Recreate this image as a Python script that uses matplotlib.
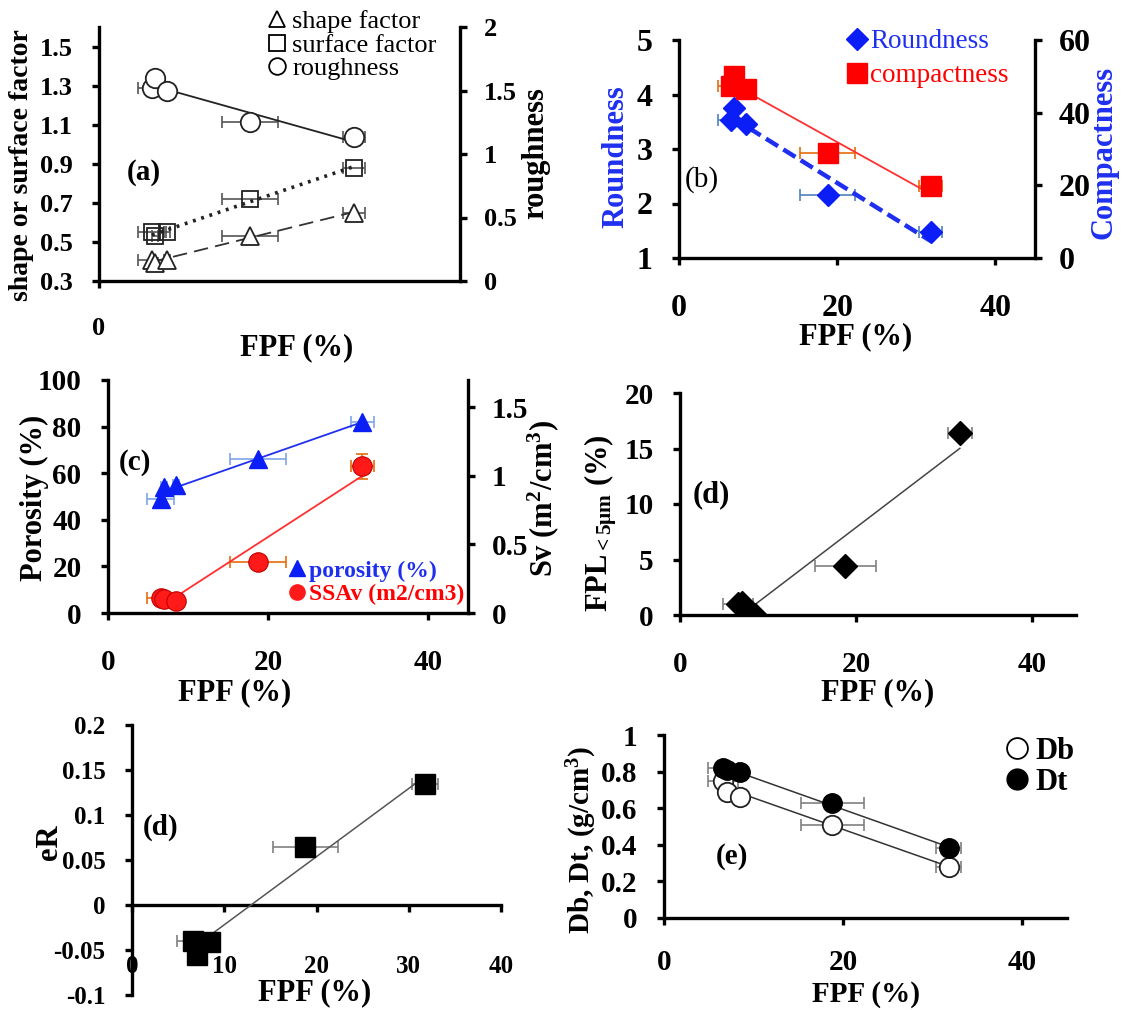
import numpy as np
import matplotlib
matplotlib.use('Agg')
import matplotlib.pyplot as plt
from matplotlib.lines import Line2D

plt.rcParams['font.family'] = ['Liberation Serif', 'DejaVu Serif']
plt.rcParams['font.weight'] = 'bold'
plt.rcParams['mathtext.fontset'] = 'custom'
plt.rcParams['mathtext.rm'] = 'Liberation Serif:bold'
plt.rcParams['mathtext.bf'] = 'Liberation Serif:bold'
plt.rcParams['mathtext.it'] = 'Liberation Serif:bold'
plt.rcParams['mathtext.default'] = 'bf'

# ---------------- data ----------------
fpf = [6.6, 7.0, 8.5, 18.8, 31.8]
fpf_err = [1.7, 0.4, 0.4, 3.5, 1.4]

shape_factor = [0.41, 0.39, 0.41, 0.53, 0.65]
surface_factor = [0.55, 0.53, 0.55, 0.72, 0.88]
roughness = [1.52, 1.60, 1.50, 1.25, 1.13]

roundness = [3.53, 3.75, 3.45, 2.15, 1.47]
compactness = [47.4, 50.1, 46.4, 28.9, 19.7]

porosity = [49, 54, 55, 66, 82]
ssav = [0.11, 0.10, 0.09, 0.37, 1.07]
ssav_err = [0.0, 0.0, 0.0, 0.0, 0.09]

fpl5 = [1.0, 1.1, 0.0, 4.4, 16.4]

eR = [-0.040, -0.056, -0.041, 0.065, 0.134]

Db = [0.75, 0.69, 0.66, 0.51, 0.28]
Dt = [0.82, 0.81, 0.80, 0.63, 0.38]

# ---------------- layout helpers ----------------
W, H = 1122, 1010
fig = plt.figure(figsize=(W / 100, H / 100), dpi=100)


def add_ax(l, t, r, b):
    return fig.add_axes([l / W, 1 - b / H, (r - l) / W, (b - t) / H])


def ftext(x, y, s, **kw):
    kw.setdefault('ha', 'center')
    kw.setdefault('va', 'center')
    fig.text(x / W, 1 - y / H, s, **kw)


def fpos(x, y):
    return (x / W, 1 - y / H)


SPW = 2.4


def style(ax, fs, right_ax=None, xpad=21, ypad=14):
    for s in ['top', 'right']:
        ax.spines[s].set_visible(False)
    for s in ['left', 'bottom']:
        ax.spines[s].set_linewidth(SPW)
    ax.tick_params(axis='both', direction='out', width=SPW, length=5,
                   labelsize=fs, colors='black')
    ax.tick_params(axis='x', pad=xpad)
    ax.tick_params(axis='y', pad=ypad)
    if right_ax is not None:
        for s in ['top', 'left', 'bottom']:
            right_ax.spines[s].set_visible(False)
        right_ax.spines['right'].set_linewidth(SPW)
        right_ax.tick_params(axis='y', direction='out', width=SPW, length=5,
                             labelsize=fs, pad=ypad - 2)


def trend(ax, x, y, **kw):
    x = np.asarray(x, float)
    y = np.asarray(y, float)
    k, b0 = np.polyfit(x, y, 1)
    xs = np.array([x.min(), x.max()])
    ax.plot(xs, k * xs + b0, **kw)


def errx(ax, y, color, yerr=None):
    ax.errorbar(fpf, y, xerr=fpf_err, yerr=yerr, fmt='none', ecolor=color,
                elinewidth=1.2, capsize=4, capthick=1.2, zorder=2)


LBL = 22

# ================= panel (a) =================
axa = add_ax(99, 27, 460, 281)
axa2 = axa.twinx()
style(axa, 19, axa2)
axa.set_xlim(0, 45)
axa.set_ylim(0.3, 1.6)
axa2.set_ylim(0, 2)
axa.set_xticks([0])
axa.set_yticks([0.3, 0.5, 0.7, 0.9, 1.1, 1.3, 1.5])
axa.set_yticklabels(['0.3', '0.5', '0.7', '0.9', '1.1', '1.3', '1.5'])
axa2.set_yticks([0, 0.5, 1, 1.5, 2])
axa2.set_yticklabels(['0', '0.5', '1', '1.5', '2'])

errx(axa, shape_factor, '#555555')
errx(axa, surface_factor, '#555555')
errx(axa2, roughness, '#555555')
trend(axa, fpf, shape_factor, color='#333333', lw=1.3, ls=(0, (8, 4)), zorder=3)
trend(axa, fpf, surface_factor, color='#222222', lw=2.6, ls=(0, (0.8, 1.6)), zorder=3)
trend(axa2, fpf, roughness, color='#222222', lw=1.3, zorder=3)
axa.plot(fpf, shape_factor, ls='none', marker='^', ms=13, mfc='white',
         mec='#222222', mew=1.3, zorder=4)
axa.plot(fpf, surface_factor, ls='none', marker='s', ms=12, mfc='none',
         mec='#222222', mew=1.3, zorder=4)
axa2.plot(fpf, roughness, ls='none', marker='o', ms=14, mfc='white',
          mec='#222222', mew=1.3, zorder=4)

ha = [Line2D([], [], ls='none', marker='^', ms=12, mfc='white', mec='black', mew=1.3),
      Line2D([], [], ls='none', marker='s', ms=12, mfc='white', mec='black', mew=1.3),
      Line2D([], [], ls='none', marker='o', ms=12, mfc='white', mec='black', mew=1.3)]
lga = axa2.legend(ha, ['shape factor', 'surface factor', 'roughness'],
                  loc='upper left', bbox_to_anchor=fpos(266, 10),
                  bbox_transform=fig.transFigure, frameon=False,
                  prop={'size': 19, 'weight': 'normal'}, labelspacing=0.0,
                  handlelength=0.8, handletextpad=0.2, borderpad=0,
                  borderaxespad=0)

ftext(22, 165, 'shape or surface factor', rotation=90, fontsize=20)
ftext(536, 153, 'roughness', rotation=90, fontsize=LBL)
ftext(297, 348, 'FPF (%)', fontsize=LBL)
ftext(144, 173, '(a)', fontsize=21)

# ================= panel (b) =================
axb = add_ax(679, 40, 1035, 258)
axb2 = axb.twinx()
style(axb, 23, axb2)
axb.set_xlim(0, 45)
axb.set_ylim(1, 5)
axb2.set_ylim(0, 60)
axb.set_xticks([0, 20, 40])
axb.set_yticks([1, 2, 3, 4, 5])
axb2.set_yticks([0, 20, 40, 60])

errx(axb, roundness, '#4F81BD')
errx(axb2, compactness, '#E46C0A')
trend(axb, fpf, roundness, color='#1F2FF0', lw=3.2, ls=(0, (3.2, 1.4)), zorder=3)
trend(axb2, fpf, compactness, color='#FF3030', lw=1.3, zorder=3)
axb.plot(fpf, roundness, ls='none', marker='D', ms=11, mfc='#0A1EF5',
         mec='#0A1EF5', zorder=4)
axb2.plot(fpf, compactness, ls='none', marker='s', ms=14, mfc='#FF0000',
          mec='#FF0000', zorder=4)

hb = [Line2D([], [], ls='none', marker='D', ms=11, mfc='#0A1EF5', mec='#0A1EF5'),
      Line2D([], [], ls='none', marker='s', ms=15, mfc='#FF0000', mec='#FF0000')]
lgb = axb2.legend(hb, ['Roundness', 'compactness'], loc='upper left',
                  bbox_to_anchor=fpos(846, 29), bbox_transform=fig.transFigure,
                  frameon=False, prop={'size': 19.5, 'weight': 'normal'},
                  labelspacing=0.35, handlelength=0.8, handletextpad=0.1,
                  borderpad=0, borderaxespad=0)
lgb.get_texts()[0].set_color('#1F2FF0')
lgb.get_texts()[1].set_color('#FF0000')

ftext(616, 157, 'Roundness', rotation=90, fontsize=LBL, color='#1F2FF0')
ftext(1104, 152, 'Compactness', rotation=90, fontsize=LBL, color='#1F2FF0')
ftext(856, 337, 'FPF (%)', fontsize=LBL)
ftext(702, 180, '(b)', fontsize=21, fontweight='normal')

# ================= panel (c) =================
axc = add_ax(108, 380, 468, 613)
axc2 = axc.twinx()
style(axc, 21, axc2)
axc.set_xlim(0, 45)
axc.set_ylim(0, 100)
axc2.set_ylim(0, 1.7)
axc.set_xticks([0, 20, 40])
axc.set_yticks([0, 20, 40, 60, 80, 100])
axc2.set_yticks([0, 0.5, 1, 1.5])
axc2.set_yticklabels(['0', '0.5', '1', '1.5'])

errx(axc, porosity, '#7EA6E6')
errx(axc2, ssav, '#E46C0A', yerr=ssav_err)
trend(axc, fpf, porosity, color='#2030F0', lw=1.3, zorder=3)
trend(axc2, fpf, ssav, color='#FF3030', lw=1.3, zorder=3)
axc.plot(fpf, porosity, ls='none', marker='^', ms=13, mfc='#0A1EF5',
         mec='#0A1EF5', zorder=4)
axc2.plot(fpf, ssav, ls='none', marker='o', ms=14, mfc='#FF1A1A',
          mec='#C00000', mew=0.8, zorder=4)

hc = [Line2D([], [], ls='none', marker='^', ms=11, mfc='#0A1EF5', mec='#0A1EF5'),
      Line2D([], [], ls='none', marker='o', ms=11, mfc='#FF1A1A', mec='#FF1A1A')]
lgc = axc2.legend(hc, ['porosity (%)', 'SSAv (m2/cm3)'], loc='upper left',
                  bbox_to_anchor=fpos(289, 560), bbox_transform=fig.transFigure,
                  frameon=False, prop={'size': 17, 'weight': 'bold'},
                  labelspacing=0.1, handlelength=0.7, handletextpad=0.15,
                  borderpad=0, borderaxespad=0)
lgc.get_texts()[0].set_color('#1F2FF0')
lgc.get_texts()[1].set_color('#FF0000')

ftext(34, 498, 'Porosity (%)', rotation=90, fontsize=LBL)
ftext(543, 498, 'Sv (m$^{2}$/cm$^{3}$)', rotation=90, fontsize=LBL)
ftext(235, 693, 'FPF (%)', fontsize=LBL)
ftext(135, 462, '(c)', fontsize=21)

# ================= panel (d) FPL =================
axd = add_ax(680, 393, 1076, 615)
style(axd, 21)
axd.set_xlim(0, 45)
axd.set_ylim(0, 20)
axd.set_xticks([0, 20, 40])
axd.set_yticks([0, 5, 10, 15, 20])

errx(axd, fpl5, '#808080')
trend(axd, fpf, fpl5, color='#444444', lw=1.1, zorder=3)
axd.plot(fpf, fpl5, ls='none', marker='D', ms=12, mfc='black', mec='black',
         zorder=4)

ftext(601, 523, 'FPL$_{<5\\mu m}$ (%)', rotation=90, fontsize=LBL)
ftext(878, 693, 'FPF (%)', fontsize=LBL)
ftext(711, 495, '(d)', fontsize=22)

# ================= panel eR =================
axe1 = add_ax(132, 725, 501, 995)
style(axe1, 18, xpad=31)
axe1.spines['bottom'].set_position(('data', 0))
axe1.set_xlim(0, 40)
axe1.set_ylim(-0.1, 0.2)
axe1.set_xticks([0, 10, 20, 30, 40])
axe1.set_yticks([-0.1, -0.05, 0, 0.05, 0.1, 0.15, 0.2])
axe1.set_yticklabels(['-0.1', '-0.05', '0', '0.05', '0.1', '0.15', '0.2'])

errx(axe1, eR, '#808080')
trend(axe1, fpf, eR, color='#555555', lw=1.1, zorder=3)
axe1.plot(fpf, eR, ls='none', marker='s', ms=14, mfc='black', mec='black',
          zorder=4)

ftext(49, 842, 'eR', rotation=90, fontsize=LBL)
ftext(315, 993, 'FPF (%)', fontsize=LBL)
ftext(161, 827, '(d)', fontsize=21)

# ================= panel (e) =================
axe = add_ax(664, 735, 1067, 918)
style(axe, 21, xpad=17)
axe.set_xlim(0, 45)
axe.set_ylim(0, 1)
axe.set_xticks([0, 20, 40])
axe.set_yticks([0, 0.2, 0.4, 0.6, 0.8, 1])
axe.set_yticklabels(['0', '0.2', '0.4', '0.6', '0.8', '1'])

errx(axe, Db, '#808080')
errx(axe, Dt, '#808080')
trend(axe, fpf, Db, color='#333333', lw=1.1, zorder=3)
trend(axe, fpf, Dt, color='#333333', lw=1.1, zorder=3)
axe.plot(fpf, Db, ls='none', marker='o', ms=14, mfc='white', mec='#222222',
         mew=1.3, zorder=4)
axe.plot(fpf, Dt, ls='none', marker='o', ms=14, mfc='black', mec='black',
         zorder=5)

he = [Line2D([], [], ls='none', marker='o', ms=15, mfc='white', mec='black', mew=1.3),
      Line2D([], [], ls='none', marker='o', ms=15, mfc='black', mec='black')]
axe.legend(he, ['Db', 'Dt'], loc='upper left', bbox_to_anchor=fpos(1005, 737),
           bbox_transform=fig.transFigure, frameon=False,
           prop={'size': 22, 'weight': 'bold'}, labelspacing=0.05,
           handlelength=0.8, handletextpad=0.2, borderpad=0, borderaxespad=0)

ftext(582, 840, 'Db, Dt, (g/cm$^{3}$)', rotation=90, fontsize=21)
ftext(866, 995, 'FPF (%)', fontsize=21)
ftext(732, 857, '(e)', fontsize=21)

fig.savefig('out.png', dpi=100)
